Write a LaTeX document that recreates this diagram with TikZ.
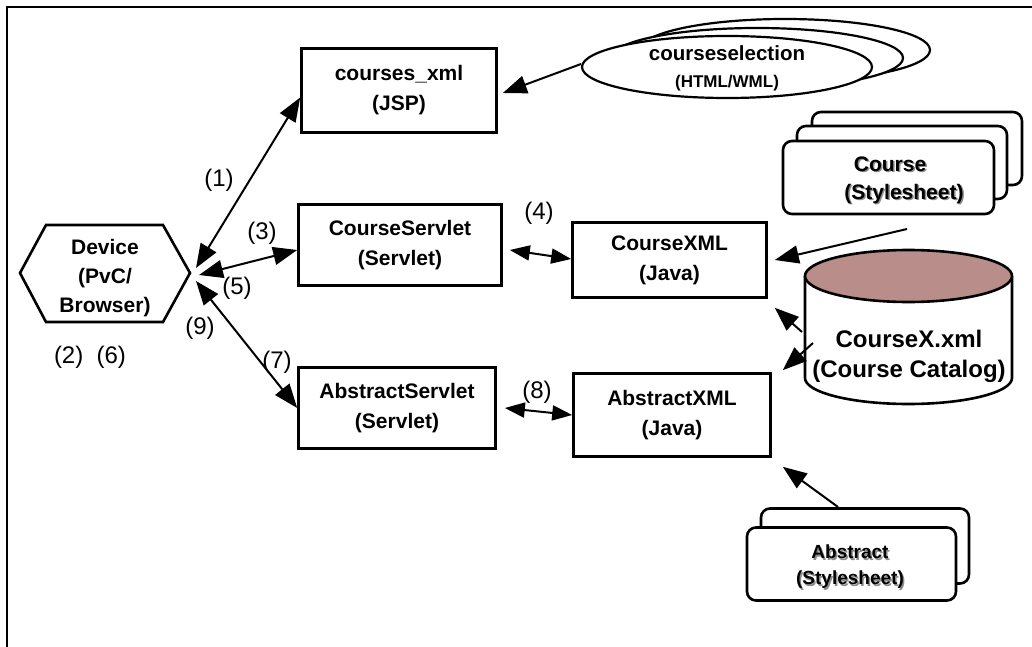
\documentclass[tikz,border=0pt]{standalone}
\usepackage{fontspec}
\setmainfont{Liberation Sans}
\usetikzlibrary{arrows.meta,calc}
\definecolor{dbtop}{RGB}{185,142,138}
\newcommand\bftxt{\fontsize{21}{30}\selectfont\bfseries}
\newcommand\lbltxt{\fontsize{24}{28}\selectfont}
\begin{document}
\begin{tikzpicture}[x=1pt,y=-1pt,
  box/.style={draw, line width=2.6pt, inner sep=0pt, align=center, font=\bftxt, fill=white},
  sbox/.style={draw, line width=2.6pt, rounded corners=9pt, fill=white, inner sep=0pt},
  arr/.style={line width=2pt, >={Triangle[length=24pt,width=18pt]}, <->},
  arrone/.style={line width=2pt, >={Triangle[length=24pt,width=18pt]}, ->},
  arrsm/.style={line width=2pt, >={Triangle[length=20pt,width=15pt]}, <->},
  lbl/.style={font=\lbltxt, inner sep=0pt},
  plain/.style={font=\bftxt, align=center, inner sep=0pt},
  shade/.style={font=\bftxt, align=center, inner sep=0pt, text=black!45}
]
\useasboundingbox (0,0) rectangle (1032,647);
% frame
\draw[line width=2pt] (1032,7) -- (7,7) -- (7,647);

% courseselection ellipses
\draw[line width=2.2pt, fill=white] (785,50) ellipse (145 and 31);
\draw[line width=2.2pt, fill=white] (757,58) ellipse (146 and 30);
\draw[line width=2.2pt, fill=white] (727,67) ellipse (145 and 31);
\node[plain] (cse) at (727,68) {\fontsize{20.5}{23}\selectfont courseselection\\[-3pt]\fontsize{17}{20}\selectfont (HTML/WML)};
\coordinate (cseL) at (581,64);

% boxes
\node[box, minimum width=195pt, minimum height=84pt] (jsp) at (399,90.5) {courses\_xml\\(JSP)};
\node[box, minimum width=203pt, minimum height=81pt] (cs) at (400,245) {CourseServlet\\(Servlet)};
\node[box, minimum width=194pt, minimum height=75pt] (cx) at (669.5,260) {CourseXML\\(Java)};
\node[box, minimum width=197pt, minimum height=81pt] (as) at (397,408) {AbstractServlet\\(Servlet)};
\node[box, minimum width=197pt, minimum height=83pt] (ax) at (672,415) {AbstractXML\\(Java)};

% device hexagon
\draw[line width=2.6pt, line join=miter] (20,273) -- (46,225) -- (163,225) -- (190,273) -- (163,322) -- (46,322) -- cycle;
\node[plain, font=\fontsize{21}{29}\selectfont\bfseries] (dev) at (105,278) {Device\\(PvC/\\Browser)};
\coordinate (d1) at (196,268);
\coordinate (d3) at (199,275);
\coordinate (d9) at (196,281);

% course stylesheet stack
\node[sbox, minimum width=210pt, minimum height=73pt] (cs3) at (917,148.5) {};
\node[sbox, minimum width=210pt, minimum height=73pt] (cs2) at (902,162.5) {};
\node[sbox, minimum width=211pt, minimum height=73pt] (cs1) at (888.5,177.5) {};
\node[shade] (cst1s) at (891.5,165.5) {Course};
\node[plain] (cst1) at (890,164) {Course};
\node[shade] (cst2s) at (905.5,195.5) {(Stylesheet)};
\node[plain] (cst2) at (904,194) {(Stylesheet)};
\coordinate (cstail) at (907,229);

% abstract stylesheet stack
\node[sbox, minimum width=208pt, minimum height=75pt] (ab2) at (865,546) {};
\node[sbox, minimum width=209pt, minimum height=73pt] (ab1) at (851.5,564) {};
\node[shade, font=\fontsize{19}{27}\selectfont\bfseries] (abs1s) at (851.5,553.5) {Abstract};
\node[plain, font=\fontsize{19}{27}\selectfont\bfseries] (abs1) at (850,552) {Abstract};
\node[shade, font=\fontsize{19}{27}\selectfont\bfseries] (abs2s) at (851.5,581.5) {(Stylesheet)};
\node[plain, font=\fontsize{19}{27}\selectfont\bfseries] (abs2) at (850,580) {(Stylesheet)};
\coordinate (abtail) at (838,507);

% cylinder
\draw[line width=2.6pt, fill=white] (805,276) -- (805,378) arc[start angle=180, end angle=0, x radius=103.5, y radius=26] -- (1012,276);
\draw[line width=2.6pt, fill=dbtop] (908.5,276) ellipse (103.5 and 26);
\node[plain, font=\fontsize{24}{30}\selectfont\bfseries] (cyl) at (909,356) {CourseX.xml\\(Course Catalog)};
\coordinate (cyt1) at (802,332);
\coordinate (cyt2) at (813,343);

% connectors
\draw[arr] (d1) -- ([yshift=-7pt]jsp.west);
\draw[arr] (d3) -- ([yshift=-5pt]cs.west);
\draw[arr] (d9) -- (as.west);
\draw[arrsm] ([xshift=7pt,yshift=-5pt]cs.east) -- ([yshift=1pt]cx.west);
\draw[arrsm] ([xshift=8pt]as.east) -- (ax.west);
\draw[arrone] (cseL) -- ([xshift=5pt,yshift=-2.5pt]jsp.east);
\draw[arrone] (cstail) -- ([xshift=7pt]cx.east);
\draw[arrone] (cyt1) -- ([xshift=7pt,yshift=-9pt]cx.south east);
\draw[arrone] (cyt2) -- ([xshift=11pt,yshift=2pt]ax.north east);
\draw[arrone] (abtail) -- ([xshift=11pt,yshift=-9pt]ax.south east);

% labels
\node[lbl] (l1) at (219,180) {(1)};
\node[lbl] (l3) at (262,233) {(3)};
\node[lbl] (l5) at (237,288) {(5)};
\node[lbl] (l9) at (200,328) {(9)};
\node[lbl] (l26) at (90,357) {(2)\ \ (6)};
\node[lbl] (l7) at (277,362) {(7)};
\node[lbl] (l4) at (539,213) {(4)};
\node[lbl] (l8) at (537,392) {(8)};
\end{tikzpicture}
\end{document}
